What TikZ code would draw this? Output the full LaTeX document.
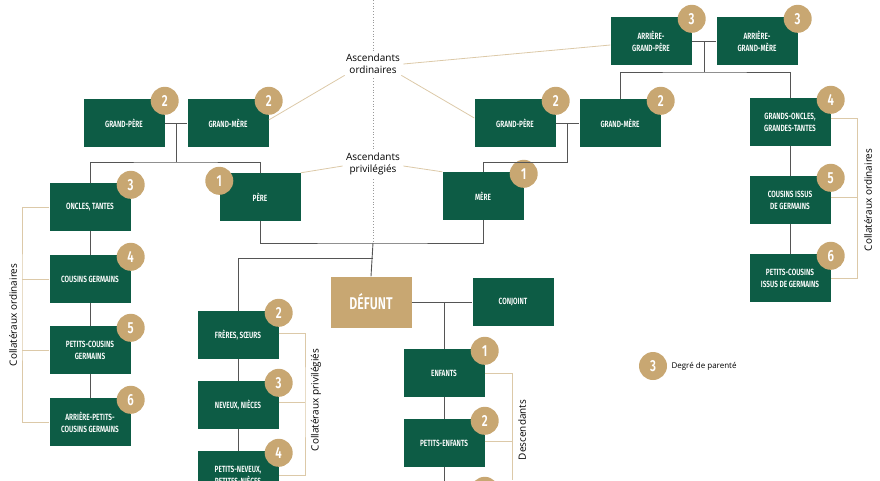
\documentclass[tikz,border=0pt]{standalone}
\usepackage{fontspec}
\setmainfont{Open Sans}
\newfontfamily\boxfont[FakeStretch=0.72]{Fira Sans SemiBold}
\usetikzlibrary{calc}
\definecolor{TreeGreen}{HTML}{0D5C45}
\definecolor{TreeGold}{HTML}{C8A772}
\definecolor{TreeTan}{HTML}{DCC9A8}
\definecolor{TreeLine}{HTML}{555555}
\newcommand{\boxw}{81pt}
\newcommand{\boxh}{48pt}
\tikzset{
  kin/.style={fill=TreeGreen,text=white,minimum width=\boxw,minimum height=\boxh,
    inner sep=1pt,align=center,font=\boxfont\fontsize{9}{12}\selectfont},
  dead/.style={kin,fill=TreeGold,minimum height=51pt,font=\boxfont\fontsize{17}{18}\selectfont},
  badge/.style={circle,fill=TreeGold,text=white,minimum size=28pt,inner sep=0pt,
    font=\boxfont\fontsize{16}{17}\selectfont},
  link/.style={draw=TreeLine,line width=0.9pt},
  brace/.style={draw=TreeTan,line width=0.8pt},
  group/.style={font=\fontsize{10}{12}\selectfont,align=center},
}
\begin{document}
\begin{tikzpicture}[x=1pt,y=-1pt]
  \useasboundingbox (0,0) rectangle (880,480);
  \clip (0,0) rectangle (880,480);
  % middle axis
  \draw[TreeLine!60,dotted,line width=0.8pt] (373,0) -- (373,243);
  \node[group,fill=white] (ascord) at (373,64) {Ascendants\\ordinaires};
  \node[group,fill=white] (ascpriv) at (373,164) {Ascendants\\privilégiés};

  % left branch
  \node[kin] (gpl) at (124,123) {GRAND-PÈRE};
  \node[kin] (gml) at (228,123) {GRAND-MÈRE};
  \node[kin] (oncles) at (90,207) {ONCLES, TANTES};
  \node[kin] (pere) at (260,197) {PÈRE};
  \node[kin] (cgerm) at (90,279) {COUSINS GERMAINS};
  \node[kin] (pcgerm) at (90,350) {PETITS-COUSINS\\GERMAINS};
  \node[kin] (apcgerm) at (90,422) {ARRIÈRE-PETITS-\\COUSINS GERMAINS};

  % right branch
  \node[kin] (agp) at (651,41) {ARRIÈRE-\\GRAND-PÈRE};
  \node[kin] (agm) at (757,41) {ARRIÈRE-\\GRAND-MÈRE};
  \node[kin] (gpr) at (515,123) {GRAND-PÈRE};
  \node[kin] (gmr) at (620,123) {GRAND-MÈRE};
  \node[kin] (mere) at (483,196) {MÈRE};
  \node[kin] (goncles) at (790,122) {GRANDS-ONCLES,\\GRANDES-TANTES};
  \node[kin] (cissus) at (790,200) {COUSINS ISSUS\\DE GERMAINS};
  \node[kin] (pcissus) at (790,278) {PETITS-COUSINS\\ISSUS DE GERMAINS};

  % around the deceased
  \node[dead] (defunt) at (371,302) {DÉFUNT};
  \node[kin] (conjoint) at (513,302) {CONJOINT};
  \node[kin] (freres) at (238,335) {FRÈRES, SŒURS};
  \node[kin] (neveux) at (238,405) {NEVEUX, NIÈCES};
  \node[kin] (pneveux) at (238,475) {PETITS-NEVEUX,\\PETITES-NIÈCES};
  \node[kin] (enfants) at (444,373) {ENFANTS};
  \node[kin] (penfants) at (444,443) {PETITS-ENFANTS};
  \node[kin] (apenfants) at (444,513) {};

  % degree badges
  \foreach \n/\d/\a in {gpl/2/north east,gml/2/north east,oncles/3/north east,
      cgerm/4/north east,pcgerm/5/north east,apcgerm/6/north east,
      agp/3/north east,agm/3/north east,gpr/2/north east,gmr/2/north east,
      mere/1/north east,goncles/4/north east,cissus/5/north east,pcissus/6/north east,
      freres/2/north east,neveux/3/north east,pneveux/4/north east,
      enfants/1/north east,penfants/2/north east,apenfants/3/north east}
    \node[badge] (b-\n) at ($(\n.\a)+(0,2)$) {\d};
  \node[badge] (b-pere) at ($(pere.north west)+(0,8)$) {1};

  % legend
  \node[badge] (legend) at (653,366) {3};
  \node[font=\fontsize{8}{9}\selectfont,anchor=west] (legendtxt) at (668,366) {Degré de parenté};

  % family links
  \begin{scope}[on background layer/.try]
    \draw[link] (gpl) -- (gml);
    \draw[link] ($(gpl.east)!0.5!(gml.west)$) coordinate (cl) -- ++(0,39) coordinate (cl2);
    \draw[link] (oncles.north) |- (cl2) -| (pere.north);
    \draw[link] (oncles) -- (cgerm) -- (pcgerm) -- (apcgerm);
    \draw[link] (gpr) -- (gmr);
    \draw[link] ($(gpr.east)!0.5!(gmr.west)$) -- ++(0,39) coordinate (cr2);
    \draw[link] (cr2) -| (mere.north);
    \draw[link] (agp) -- (agm);
    \draw[link] ($(agp.east)!0.5!(agm.west)$) -- ++(0,31) coordinate (ca2);
    \draw[link] (gmr.north) |- (ca2) -| (goncles.north);
    \draw[link] (goncles) -- (cissus) -- (pcissus);
    \draw[link] (pere.south) |- (373,243) coordinate (cp) -| (mere.south);
    \draw[link] (cp) -- (defunt.north);
    \draw[link] ($(cp)+(0,15)$) -| (freres.north);
    \draw[link] (freres) -- (neveux) -- (pneveux);
    \draw[link] (defunt) -- (conjoint);
    \draw[link] (444,302) -- (enfants.north);
    \draw[link] (enfants) -- (penfants) -- (apenfants);
  \end{scope}

  % group brackets
  \draw[brace] (ascord.south west) ++(2,-2) -- (gml.east |- 0,120);
  \draw[brace] (ascord.south east) ++(-2,-2) -- (gpr.west |- 0,118);
  \draw[brace] (ascord.east) -- (agp.west |- 0,45);
  \draw[brace] (ascpriv.west) ++(0,2) -- (pere.north east);
  \draw[brace] (ascpriv.east) ++(0,2) -- (mere.north west);

  \draw[brace] (oncles.west) -| (22,300) |- (apcgerm.west);
  \draw[brace] (cgerm.west) -- (22,279);
  \draw[brace] (pcgerm.west) -- (22,350);
  \node[group,rotate=90] (collordl) at (13,315) {Collatéraux ordinaires};

  \draw[brace] (goncles.east) ++(0,-4) -| (857,200) |- (pcissus.east);
  \draw[brace] (cissus.east) ++(0,-3) -- (857,197);
  \node[group,rotate=90] (collordr) at (868,200) {Collatéraux ordinaires};

  \draw[brace] (freres.east) ++(0,-2) -| (305,400) |- (pneveux.east);
  \draw[brace] (neveux.east) ++(0,-3) -- (305,402);
  \node[group,rotate=90] (collpriv) at (316,400) {Collatéraux privilégiés};

  \draw[brace] (enfants.east) -| (512,480);
  \draw[brace] (penfants.east) ++(0,-2) -- (512,441);
  \node[group,rotate=90] (desc) at (522,430) {Descendants};
\end{tikzpicture}
\end{document}
